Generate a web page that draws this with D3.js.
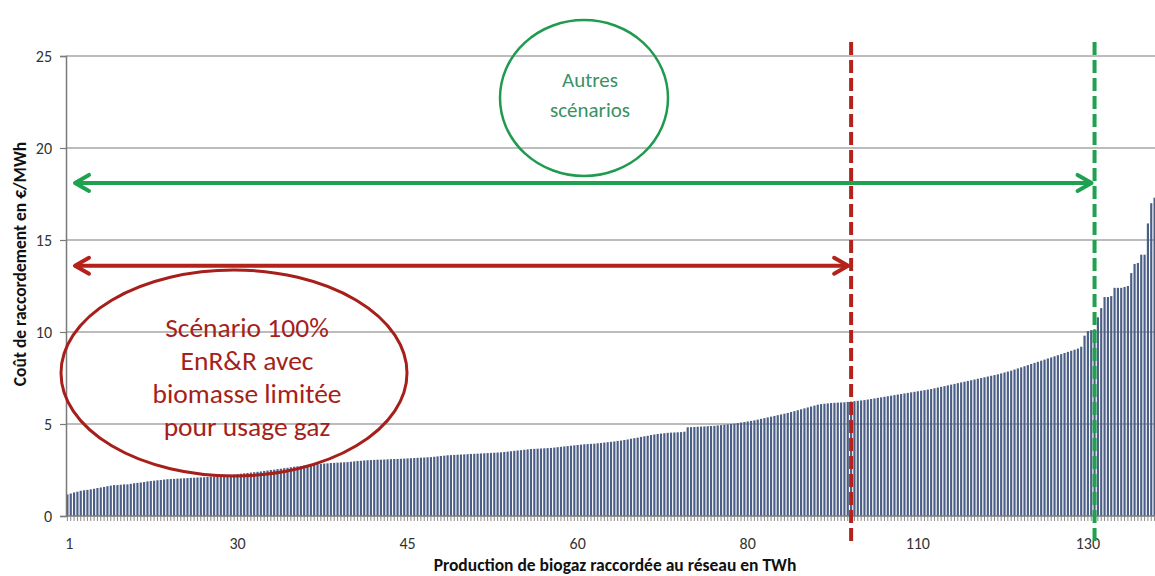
<!DOCTYPE html>
<html><head><meta charset="utf-8">
<script src="https://cdn.jsdelivr.net/npm/d3@7"></script>
<style>
body{margin:0;background:#fff;}
svg{display:block;font-family:Carlito,Lato,"Open Sans",sans-serif;}
</style></head><body>
<svg id="chart" width="1155" height="576"></svg>
<script>
// Connection cost per project (€/MWh), sorted ascending
const costs = [
1.17,1.22,1.28,1.32,1.37,1.40,1.42,1.45,1.48,1.52,
1.55,1.58,1.62,1.65,1.68,1.68,1.70,1.72,1.72,1.75,
1.78,1.80,1.82,1.85,1.88,1.90,1.92,1.94,1.96,1.98,
2.00,2.01,2.02,2.03,2.04,2.05,2.06,2.07,2.08,2.09,
2.10,2.11,2.12,2.14,2.15,2.17,2.18,2.20,2.22,2.24,
2.26,2.28,2.30,2.32,2.34,2.36,2.38,2.40,2.42,2.45,
2.47,2.50,2.52,2.55,2.57,2.60,2.62,2.65,2.68,2.70,
2.72,2.74,2.76,2.78,2.80,2.82,2.84,2.85,2.86,2.88,
2.89,2.90,2.91,2.92,2.93,2.95,2.97,2.99,3.00,3.02,
3.03,3.04,3.05,3.06,3.06,3.07,3.08,3.09,3.10,3.10,
3.11,3.12,3.13,3.14,3.15,3.16,3.17,3.18,3.19,3.20,
3.22,3.24,3.26,3.28,3.30,3.31,3.32,3.33,3.34,3.35,
3.36,3.37,3.38,3.39,3.40,3.41,3.42,3.43,3.44,3.45,
3.46,3.48,3.50,3.52,3.54,3.56,3.58,3.60,3.62,3.64,
3.65,3.66,3.67,3.68,3.69,3.70,3.72,3.74,3.76,3.78,
3.80,3.82,3.84,3.86,3.88,3.90,3.91,3.92,3.93,3.95,
3.97,3.99,4.01,4.03,4.05,4.08,4.10,4.13,4.16,4.20,
4.23,4.26,4.30,4.33,4.36,4.40,4.43,4.46,4.48,4.50,
4.52,4.53,4.54,4.55,4.56,4.58,4.82,4.83,4.84,4.85,
4.86,4.87,4.88,4.89,4.90,4.92,4.94,4.96,4.98,5.00,
5.02,5.05,5.08,5.11,5.14,5.17,5.20,5.24,5.28,5.32,
5.36,5.40,5.44,5.48,5.52,5.56,5.60,5.65,5.70,5.75,
5.80,5.85,5.90,5.95,6.00,6.05,6.08,6.10,6.12,6.14,
6.15,6.16,6.17,6.18,6.20,6.22,6.24,6.26,6.28,6.30,
6.33,6.36,6.39,6.42,6.45,6.48,6.51,6.54,6.57,6.60,
6.63,6.66,6.69,6.72,6.75,6.78,6.81,6.84,6.87,6.90,
6.94,6.98,7.02,7.06,7.10,7.14,7.18,7.22,7.26,7.30,
7.34,7.38,7.42,7.46,7.50,7.54,7.58,7.62,7.66,7.70,
7.75,7.80,7.85,7.90,7.96,8.02,8.08,8.14,8.20,8.26,
8.32,8.38,8.44,8.50,8.56,8.62,8.68,8.74,8.80,8.86,
8.92,8.98,9.04,9.10,9.20,9.80,10.05,10.10,10.15,10.80,
11.30,11.90,11.90,11.95,12.40,12.40,12.40,12.45,12.50,13.20,
13.70,13.75,14.20,14.20,15.90,17.00,17.30
];
// category axis labels (cumulative TWh) shown at these bar indices
const tickIndices = [0, 51, 102, 153, 204, 255, 306];
const tickLabels = ["1", "30", "45", "60", "80", "110", "130"];
const yTicks = [0, 5, 10, 15, 20, 25];
// scenario limits (bar index) and arrow levels (€/MWh)
const scenarioCutIndex = [235, 308];
const arrowLevels = [13.6, 18.1];
const redLines = ["Scénario 100%", "EnR&R avec", "biomasse limitée", "pour usage gaz"];
const greenLines = ["Autres", "scénarios"];

const svg = d3.select("#chart");
const mL = 66, mR = 1156, mT = 56, mB = 516;
const idx = d3.range(costs.length);
const x = d3.scaleBand().domain(idx).range([mL, mR]).paddingInner(0.35).paddingOuter(0.1);
const y = d3.scaleLinear().domain([0, 25]).range([mB, mT]);
const cx = i => x(i) + x.bandwidth() / 2;

const RED = "#b3221b", GREEN = "#1fa14f";

// gridlines
svg.append("g").selectAll("line").data(yTicks.filter(d => d > 0)).join("line")
  .attr("x1", mL).attr("x2", mR).attr("y1", d => y(d)).attr("y2", d => y(d))
  .attr("stroke", "#7a7a7a").attr("stroke-width", 1.2);

// bars
svg.append("g").selectAll("rect").data(costs).join("rect")
  .attr("x", (d, i) => x(i)).attr("width", x.bandwidth())
  .attr("y", d => y(d)).attr("height", d => y(0) - y(d))
  .attr("fill", "#4b5f86");

// y axis
const yAxis = svg.append("g").attr("transform", `translate(${mL},0)`)
  .call(d3.axisLeft(y).tickValues(yTicks).tickSize(6).tickPadding(8));
yAxis.select(".domain").attr("stroke", "#7a7a7a").attr("stroke-width", 1.5);
yAxis.selectAll(".tick line").attr("stroke", "#7a7a7a").attr("stroke-width", 1.2);
yAxis.selectAll("text").attr("font-size", 16).attr("fill", "#333").attr("font-family", "Carlito,Lato,sans-serif");

// x axis: minor tick per category
const xAxis = svg.append("g").attr("transform", `translate(0,${mB})`)
  .call(d3.axisBottom(x).tickValues(idx).tickSize(5).tickFormat(""));
xAxis.select(".domain").attr("stroke", "#7a7a7a").attr("stroke-width", 1.5).attr("d", `M${mL},0H${mR}`);
xAxis.selectAll(".tick line").attr("stroke", "#8a8a8a").attr("stroke-width", 1);
// labels
svg.append("g").selectAll("text").data(tickIndices).join("text")
  .attr("x", d => cx(d) + (d === 0 ? 2 : 0)).attr("y", 549).attr("text-anchor", "middle")
  .attr("font-size", 16).attr("fill", "#333")
  .text((d, i) => tickLabels[i]);

// axis titles
svg.append("text").attr("x", 615).attr("y", 571).attr("text-anchor", "middle")
  .attr("font-size", 17.5).attr("font-weight", "bold").attr("fill", "#111")
  .text("Production de biogaz raccordée au réseau en TWh");
svg.append("text").attr("transform", "translate(26,264) rotate(-90)").attr("text-anchor", "middle")
  .attr("font-size", 17.5).attr("font-weight", "bold").attr("fill", "#111")
  .text("Coût de raccordement en €/MWh");

// dashed limits
const colors = [RED, GREEN];
scenarioCutIndex.forEach((ci, k) => {
  svg.append("line").attr("x1", cx(ci)).attr("x2", cx(ci)).attr("y1", 42).attr("y2", 541)
    .attr("stroke", colors[k]).attr("stroke-width", 4).attr("stroke-dasharray", "13,5");
});

// double arrows
scenarioCutIndex.forEach((ci, k) => {
  const yy = y(arrowLevels[k]);
  const x0 = 75, x1 = cx(ci) - 3;
  const g = svg.append("g").attr("stroke", colors[k]).attr("stroke-width", 4)
    .attr("fill", "none").attr("stroke-linecap", "round").attr("stroke-linejoin", "round");
  g.append("line").attr("x1", x0 + 2).attr("x2", x1 - 2).attr("y1", yy).attr("y2", yy);
  g.append("polyline").attr("points", `${x0 + 14},${yy - 8} ${x0},${yy} ${x0 + 14},${yy + 8}`);
  g.append("polyline").attr("points", `${x1 - 14},${yy - 8} ${x1},${yy} ${x1 - 14},${yy + 8}`);
});

// red ellipse and text
svg.append("ellipse").attr("cx", 234).attr("cy", 373).attr("rx", 173).attr("ry", 103)
  .attr("fill", "none").attr("stroke", "#a61f1a").attr("stroke-width", 3);
svg.append("g").selectAll("text").data(redLines).join("text")
  .attr("x", 247).attr("y", (d, i) => 337 + i * 33).attr("text-anchor", "middle")
  .attr("font-size", 27.5).attr("fill", "#a61f1a").text(d => d);

// green circle and text
svg.append("ellipse").attr("cx", 584).attr("cy", 98).attr("rx", 84).attr("ry", 78)
  .attr("fill", "none").attr("stroke", "#1f9a4f").attr("stroke-width", 2.5);
svg.append("g").selectAll("text").data(greenLines).join("text")
  .attr("x", 590).attr("y", (d, i) => 87 + i * 30).attr("text-anchor", "middle")
  .attr("font-size", 21).attr("fill", "#3a9162").text(d => d);
</script>
</body></html>
